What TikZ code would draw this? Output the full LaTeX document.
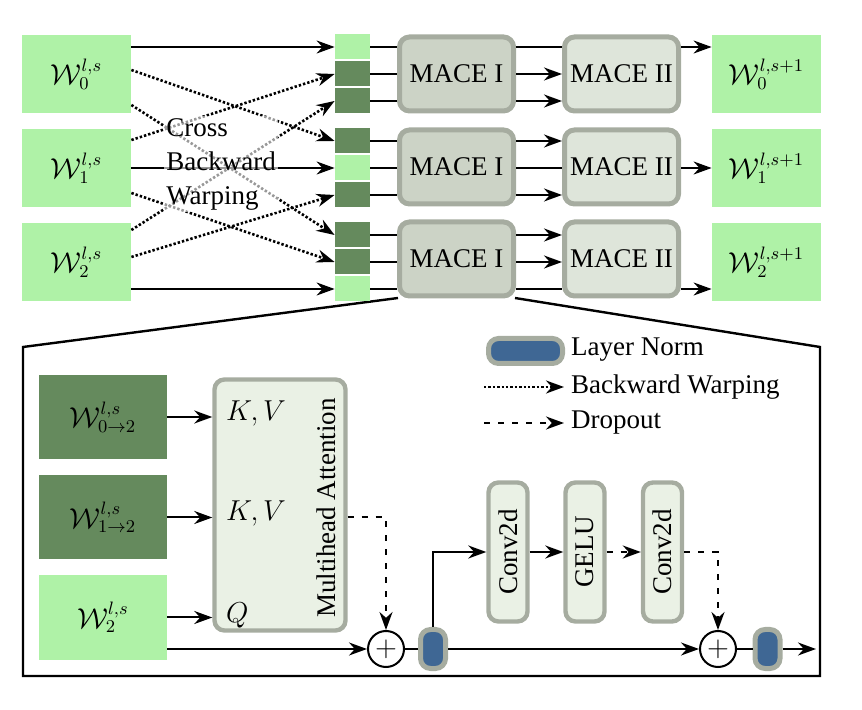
\documentclass[tikz,border=0pt]{standalone}
\usepackage[no-math]{fontspec}
\setmainfont{Liberation Serif}
\usepackage{graphicx}
\usetikzlibrary{arrows.meta}

\definecolor{lgreen}{HTML}{AFF2A7}
\definecolor{dgreen}{HTML}{658A5D}
\definecolor{gborder}{HTML}{A6ACA0}
\definecolor{macefill}{HTML}{CCD3C6}
\definecolor{macefillb}{HTML}{DEE5DA}
\definecolor{opfill}{HTML}{EAF1E5}
\definecolor{lnblue}{HTML}{3F6794}

\begin{document}
\begin{tikzpicture}[x=0.5pt, y=-0.5pt, font=\fontsize{13.5}{17}\selectfont,
    feat/.style={fill=lgreen, minimum width=54.5pt, minimum height=39pt, inner sep=0pt},
    slot/.style={minimum width=17.5pt, minimum height=12.5pt, inner sep=0pt},
    mace/.style={draw=gborder, line width=2.5pt, rounded corners=5pt, minimum width=57pt, minimum height=37pt, inner sep=1pt},
    op/.style={draw=gborder, fill=opfill, line width=2.2pt, rounded corners=5pt, inner sep=0pt},
    ln/.style={draw=gborder, fill=lnblue, line width=2.5pt, rounded corners=5pt, inner sep=0pt},
    plus/.style={draw, circle, line width=1pt, minimum size=18pt, inner sep=0pt},
    arr/.style={-{Stealth[length=9pt, width=6.5pt]}, line width=1pt},
    bw/.style={arr, line width=1.3pt, dash pattern=on 1.2pt off 1pt},
    drop/.style={arr, dash pattern=on 3pt off 4pt}]
  \useasboundingbox (0,0) rectangle (862,710);

  % zoom outline
  \coordinate (zl) at (23,347);
  \coordinate (zr) at (820,347);
  \draw[line width=1.2pt] (458-60,298) -- (zl) -- (23,676) -- (820,676) -- (zr) -- (456+59,298);

  % top row: inputs, slots, MACE blocks, outputs
  \node[feat] (w0) at (76.5,74) {$\mathcal{W}_0^{l,s}$};
  \node[feat] (w1) at (76.5,168) {$\mathcal{W}_1^{l,s}$};
  \node[feat] (w2) at (76.5,262) {$\mathcal{W}_2^{l,s}$};

  \node[slot, fill=lgreen] (sq1) at (352.5,47) {};
  \node[slot, fill=dgreen] (sq2) at (352.5,74) {};
  \node[slot, fill=dgreen] (sq3) at (352.5,101) {};
  \node[slot, fill=dgreen] (sq4) at (352.5,141) {};
  \node[slot, fill=lgreen] (sq5) at (352.5,168) {};
  \node[slot, fill=dgreen] (sq6) at (352.5,195) {};
  \node[slot, fill=dgreen] (sq7) at (352.5,235) {};
  \node[slot, fill=dgreen] (sq8) at (352.5,262) {};
  \node[slot, fill=lgreen] (sq9) at (352.5,289) {};

  \node[mace, fill=macefill] (ma0) at (456.5,74) {MACE I};
  \node[mace, fill=macefill] (ma1) at (456.5,167) {MACE I};
  \node[mace, fill=macefill] (ma2) at (456.5,259) {MACE I};
  \node[mace, fill=macefillb] (mb0) at (621.5,74) {MACE II};
  \node[mace, fill=macefillb] (mb1) at (621.5,167) {MACE II};
  \node[mace, fill=macefillb] (mb2) at (621.5,259) {MACE II};

  \node[feat] (o0) at (766.5,74) {$\mathcal{W}_0^{l,s+1}$};
  \node[feat] (o1) at (766.5,168) {$\mathcal{W}_1^{l,s+1}$};
  \node[feat] (o2) at (766.5,262) {$\mathcal{W}_2^{l,s+1}$};

  \draw[arr] (w0.east |- sq1) -- (sq1);
  \draw[arr] (w1.east |- sq5) -- (sq5);
  \draw[arr] (w2.east |- sq9) -- (sq9);
  \draw[bw] ([yshift=2pt]w0.east) -- (sq4.west);
  \draw[bw] ([yshift=-15.5pt]w0.east) -- (sq7.west);
  \draw[bw] ([yshift=14pt]w1.east) -- (sq2.west);
  \draw[bw] ([yshift=-12.5pt]w1.east) -- (sq8.west);
  \draw[bw] ([yshift=16pt]w2.east) -- (sq3.west);
  \draw[bw] ([yshift=2.5pt]w2.east) -- (sq6.west);
  \node[anchor=west, align=left, fill=white, fill opacity=0.6, text opacity=1, inner sep=1pt] (cbw) at (164,164) {Cross\\Backward\\Warping};

  \draw[line width=1pt] (sq1.east) -- (sq1 -| ma0.west) (sq2.east) -- (sq2 -| ma0.west) (sq3.east) -- (sq3 -| ma0.west)
    (sq4.east) -- (sq4 -| ma1.west) (sq5.east) -- (sq5 -| ma1.west) (sq6.east) -- (sq6 -| ma1.west)
    (sq7.east) -- (sq7 -| ma2.west) (sq8.east) -- (sq8 -| ma2.west) (sq9.east) -- (sq9 -| ma2.west);
  \draw[line width=1pt] (sq1 -| ma0.east) -- (sq1 -| mb0.west);
  \draw[line width=1pt] (sq5 -| ma1.east) -- (sq5 -| mb1.west);
  \draw[line width=1pt] (sq9 -| ma2.east) -- (sq9 -| mb2.west);
  \draw[arr] (sq2 -| ma0.east) -- (sq2 -| mb0.west);
  \draw[arr] (sq3 -| ma0.east) -- (sq3 -| mb0.west);
  \draw[arr] (sq4 -| ma1.east) -- (sq4 -| mb1.west);
  \draw[arr] (sq6 -| ma1.east) -- (sq6 -| mb1.west);
  \draw[arr] (sq7 -| ma2.east) -- (sq7 -| mb2.west);
  \draw[arr] (sq8 -| ma2.east) -- (sq8 -| mb2.west);
  \draw[arr] (sq1 -| mb0.east) -- (sq1 -| o0.west);
  \draw[arr] (sq5 -| mb1.east) -- (sq5 -| o1.west);
  \draw[arr] (sq9 -| mb2.east) -- (sq9 -| o2.west);

  % legend
  \node[ln, minimum width=37pt, minimum height=12.5pt] (lnkey) at (525.5,351) {};
  \node[anchor=west] (lnlab) at (564,350) {Layer Norm};
  \node[anchor=west] (bwlab) at (564,387) {Backward Warping};
  \node[anchor=west] (drlab) at (564,423) {Dropout};
  \coordinate (bwa) at (484,387);
  \coordinate (dra) at (484,423);
  \draw[bw] (bwa) -- (bwa -| bwlab.west);
  \draw[drop] (dra) -- (dra -| drlab.west);

  % MACE I detail
  \node[feat, fill=dgreen, minimum width=64pt, minimum height=42pt] (v0) at (103,417) {$\mathcal{W}_{0\to 2}^{l,s}$};
  \node[feat, fill=dgreen, minimum width=64pt, minimum height=42pt] (v1) at (103,517.5) {$\mathcal{W}_{1\to 2}^{l,s}$};
  \node[feat, minimum width=64pt, minimum height=42pt] (v2) at (103,617.5) {$\mathcal{W}_2^{l,s}$};

  \node[op, minimum width=65.5pt, minimum height=125.5pt] (mha) at (280,505) {};
  \node[rotate=90] (mhalab) at (326,508) {Multihead Attention};
  \node[anchor=west] (kv0) at (219,413) {$K,V$};
  \node[anchor=west] (kv1) at (219,513) {$K,V$};
  \node[anchor=west] (q) at (219,615) {$Q$};

  \node[plus] (plusa) at (386,649) {$+$};
  \node[ln, minimum width=12.5pt, minimum height=19.5pt] (lna) at (433,649) {};
  \node[op, minimum width=19.5pt, minimum height=69.5pt] (ca) at (508,552) {\rotatebox{90}{Conv2d}};
  \node[op, minimum width=19.5pt, minimum height=69.5pt] (ge) at (585,552) {\rotatebox{90}{GELU}};
  \node[op, minimum width=19.5pt, minimum height=69.5pt] (cb) at (662.5,552) {\rotatebox{90}{Conv2d}};
  \node[plus] (plusb) at (718,649) {$+$};
  \node[ln, minimum width=12.5pt, minimum height=19.5pt] (lnb) at (767.5,649) {};
  \coordinate (outp) at (816,649);

  \draw[arr] (v0) -- (v0 -| mha.west);
  \draw[arr] (v1) -- (v1 -| mha.west);
  \draw[arr] (v2) -- (v2 -| mha.west);
  \draw[arr] (v2.east |- plusa) -- (plusa);
  \draw[drop] (mha.east |- v1) -| (plusa);
  \draw[line width=1pt] (plusa) -- (lna);
  \draw[arr] (lna) |- (ca);
  \draw[arr] (ca) -- (ge);
  \draw[drop] (ge) -- (cb);
  \draw[drop] (cb) -| (plusb);
  \draw[arr] (lna) -- (plusb);
  \draw[line width=1pt] (plusb) -- (lnb);
  \draw[arr] (lnb) -- (outp);
\end{tikzpicture}
\end{document}
